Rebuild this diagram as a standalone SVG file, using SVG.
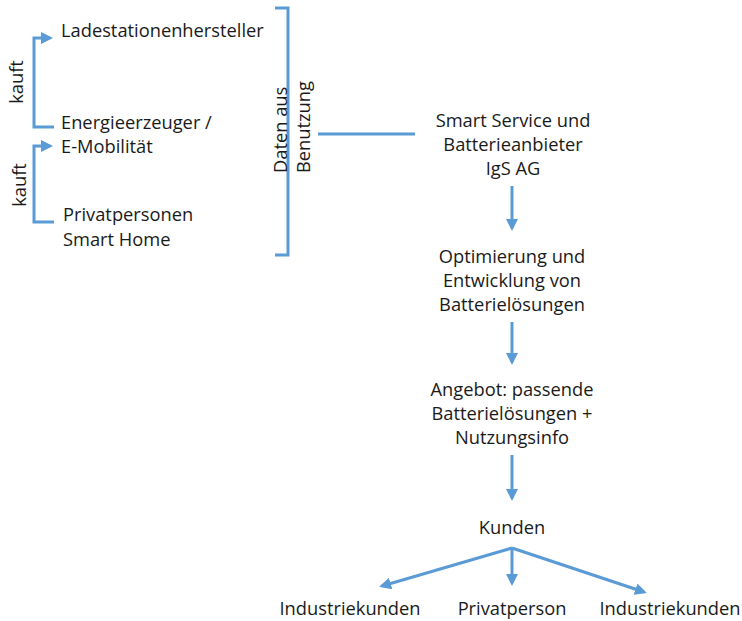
<svg xmlns="http://www.w3.org/2000/svg" width="742" height="621" viewBox="0 0 742 621">
<defs>
<marker id="ah" markerWidth="4" markerHeight="4" refX="3" refY="2" orient="auto" markerUnits="strokeWidth">
<path d="M0,0 L4,2 L0,4 Z" fill="#5B9BD5"/>
</marker>
<style>
text{font-family:"Open Sans","Liberation Sans",Arial,sans-serif;font-size:18.3px;fill:#1a1a1a}
.c{text-anchor:middle}
.ln{stroke:#5B9BD5;stroke-width:3;fill:none}
</style>
</defs>
<rect width="742" height="621" fill="#ffffff"/>
<g id="connectors">
<path class="ln" d="M54,127 H34 V38 H50" marker-end="url(#ah)"/>
<path class="ln" d="M54,222 H34 V146 H50" marker-end="url(#ah)"/>
<path class="ln" d="M275,8 H288 V255 H275"/>
<line class="ln" x1="318" y1="134" x2="415" y2="134"/>
<line class="ln" x1="512" y1="186" x2="512" y2="228" marker-end="url(#ah)"/>
<line class="ln" x1="512" y1="322" x2="512" y2="362" marker-end="url(#ah)"/>
<line class="ln" x1="512" y1="455" x2="512" y2="498" marker-end="url(#ah)"/>
<line class="ln" x1="512" y1="548" x2="382" y2="586" marker-end="url(#ah)"/>
<line class="ln" x1="512" y1="548" x2="512" y2="583" marker-end="url(#ah)"/>
<line class="ln" x1="512" y1="548" x2="644" y2="592" marker-end="url(#ah)"/>
</g>
<g id="kauft1"><text class="c" transform="translate(23,82) rotate(-90)">kauft</text></g>
<g id="kauft2"><text class="c" transform="translate(26,185) rotate(-90)">kauft</text></g>
<g id="ladestation"><text x="61" y="37">Ladestationenhersteller</text></g>
<g id="energie"><text x="61" y="129">Energieerzeuger /</text><text x="61" y="153">E-Mobilität</text></g>
<g id="privat"><text x="63" y="221">Privatpersonen</text><text x="63" y="246">Smart Home</text></g>
<g id="daten"><text transform="translate(287,173) rotate(-90)">Daten aus</text><text transform="translate(310,173) rotate(-90)">Benutzung</text></g>
<g id="igs"><text class="c" x="513" y="127">Smart Service und</text><text class="c" x="513" y="151">Batterieanbieter</text><text class="c" x="513" y="175">IgS AG</text></g>
<g id="optimierung"><text class="c" x="512" y="263">Optimierung und</text><text class="c" x="512" y="287">Entwicklung von</text><text class="c" x="512" y="311">Batterielösungen</text></g>
<g id="angebot"><text class="c" x="512" y="396">Angebot: passende</text><text class="c" x="512" y="420">Batterielösungen +</text><text class="c" x="512" y="444">Nutzungsinfo</text></g>
<g id="kunden"><text class="c" x="512" y="534">Kunden</text></g>
<g id="industrie1"><text class="c" x="350" y="615">Industriekunden</text></g>
<g id="privatperson"><text class="c" x="512" y="615">Privatperson</text></g>
<g id="industrie2"><text class="c" x="670" y="615">Industriekunden</text></g>
</svg>
